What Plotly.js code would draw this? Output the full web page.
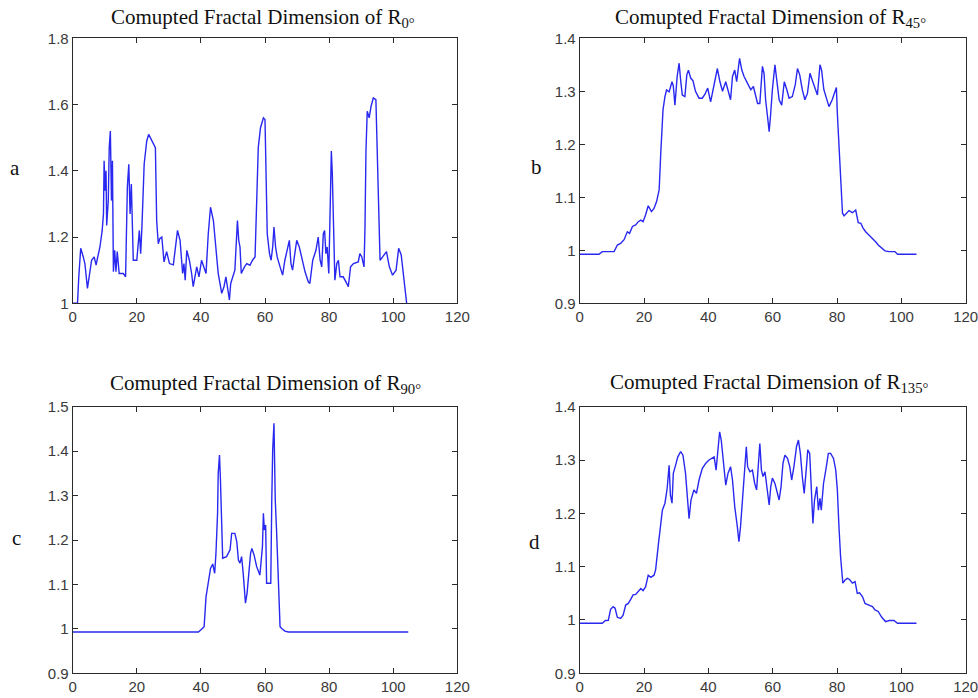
<!DOCTYPE html>
<html>
<head>
<meta charset="utf-8">
<script src="https://cdn.plot.ly/plotly-3.0.1.min.js"></script>
<style>
html,body{margin:0;padding:0;background:#fff;}
#chart{width:978px;height:698px;}
</style>
</head>
<body>
<div id="chart"></div>
<script>
// ---------- data ----------
const panelLetters = ["a", "b", "c", "d"];
const panelSubs = ["0°", "45°", "90°", "135°"];
const titlePrefix = "Comupted Fractal Dimension of R";

const xTicks = [0, 20, 40, 60, 80, 100, 120];
const yTicksA = [1, 1.2, 1.4, 1.6, 1.8];
const yTicksB = [0.9, 1, 1.1, 1.2, 1.3, 1.4];
const yTicksC = [0.9, 1, 1.1, 1.2, 1.3, 1.4, 1.5];
const yTicksD = [0.9, 1, 1.1, 1.2, 1.3, 1.4];

const xA = [0,1.5,1.9,2.5,3.3,3.8,4.6,5.4,5.9,6.7,7.3,7.7,8.5,9.2,9.6,9.8,10.1,10.4,10.6,11.1,11.4,11.75,12.1,12.4,12.7,13.1,13.5,13.9,14.5,15.8,16.5,17.05,17.5,17.9,18.3,18.9,20,20.8,21.2,21.6,22.3,23.1,23.7,25.8,26.2,26.7,27.2,27.8,28.5,29.3,30.2,31.4,32.7,33.5,34.3,34.7,35.1,35.6,36.4,37.1,37.6,38.7,39.4,40.2,41,41.6,42.3,43,43.9,44.7,45.4,46.5,47.2,47.8,48.4,48.9,49.3,49.9,50.6,51.4,51.8,52.2,52.6,53.6,54.3,55.3,56.1,56.9,57.4,57.9,58.6,59.5,60,60.3,60.7,61.4,61.9,62.4,62.8,63.3,63.8,64.7,65.5,66.2,67,67.6,68.1,68.6,69.3,69.9,70.7,71.4,72.5,73.5,74,74.9,75.9,76.6,77.2,77.7,78.2,78.6,79,79.4,79.9,80.3,80.7,81,81.3,81.8,82.4,82.9,83.4,84.4,85.5,86,86.7,87.6,89.1,89.6,90.2,90.9,91.2,91.5,91.9,92.5,93.1,93.8,94.6,94.8,95.4,95.9,96.7,97.9,98.8,99.8,100.9,101.7,102.5,103.2,103.7,104.2,105];
const yA = [1,1,1.08,1.166,1.14,1.12,1.045,1.095,1.13,1.14,1.115,1.135,1.17,1.22,1.27,1.43,1.34,1.40,1.235,1.31,1.47,1.52,1.31,1.43,1.095,1.16,1.095,1.156,1.09,1.09,1.08,1.35,1.42,1.27,1.36,1.13,1.13,1.22,1.15,1.23,1.42,1.49,1.51,1.47,1.25,1.18,1.196,1.2,1.125,1.156,1.12,1.116,1.22,1.19,1.09,1.12,1.07,1.16,1.13,1.09,1.05,1.11,1.08,1.13,1.11,1.09,1.21,1.29,1.25,1.15,1.09,1.03,1.05,1.08,1.04,1.01,1.06,1.08,1.10,1.25,1.19,1.17,1.09,1.11,1.12,1.115,1.13,1.14,1.35,1.47,1.53,1.56,1.555,1.39,1.21,1.15,1.13,1.17,1.23,1.17,1.14,1.11,1.085,1.13,1.16,1.19,1.12,1.10,1.15,1.19,1.17,1.14,1.095,1.065,1.06,1.13,1.16,1.20,1.13,1.11,1.21,1.22,1.15,1.17,1.09,1.27,1.46,1.39,1.27,1.07,1.12,1.13,1.08,1.08,1.06,1.05,1.11,1.12,1.125,1.15,1.14,1.11,1.23,1.46,1.58,1.56,1.595,1.62,1.615,1.53,1.35,1.13,1.14,1.156,1.11,1.085,1.10,1.166,1.146,1.08,1.03,1.0,0.97];

const xB = [0,6,7,9.1,10.7,11.7,12.7,13.8,14.8,15.5,16.4,17.4,18.2,19,19.7,20.5,21.3,22.3,23.1,23.9,24.7,25.2,25.5,25.9,26.5,27,27.8,28.3,28.7,29.1,29.6,30.3,30.9,31.4,31.9,32.7,33.3,33.8,34.5,35.2,36,37.1,38.1,38.9,39.8,40.7,41.5,42.1,42.8,43.6,44.4,45.4,46,46.9,47.5,48.2,48.8,49.4,49.7,50.4,51.1,52.1,53.2,54,54.7,55.3,56,56.8,57.3,57.8,58.4,58.9,59.3,59.9,60.7,61.3,62,62.8,63.6,64.4,65.1,66.1,67,67.7,68.4,69.2,70,70.8,71.6,72.3,73.2,73.9,74.7,75.2,75.9,76.7,77.5,78.5,79.2,79.8,80.1,80.6,81.1,81.7,82.2,82.9,83.7,84.8,85.8,86.6,87.4,88.1,88.9,89.9,91,92,92.8,93.9,94.9,96.2,98,98.8,104.7];
const yB = [0.9925,0.9925,0.9975,0.9975,0.9975,1.01,1.013,1.02,1.035,1.032,1.045,1.048,1.054,1.057,1.054,1.067,1.084,1.073,1.079,1.092,1.114,1.183,1.233,1.265,1.29,1.3025,1.299,1.309,1.318,1.31,1.274,1.328,1.353,1.32,1.293,1.29,1.331,1.34,1.325,1.32,1.30,1.287,1.287,1.294,1.306,1.28,1.303,1.321,1.343,1.318,1.30,1.318,1.306,1.284,1.328,1.34,1.318,1.35,1.362,1.34,1.328,1.316,1.303,1.309,1.293,1.277,1.277,1.347,1.334,1.284,1.252,1.224,1.252,1.303,1.35,1.321,1.284,1.274,1.318,1.303,1.287,1.29,1.312,1.343,1.331,1.303,1.284,1.296,1.334,1.321,1.303,1.293,1.35,1.34,1.303,1.287,1.271,1.284,1.296,1.307,1.258,1.196,1.139,1.07,1.065,1.07,1.075,1.071,1.076,1.052,1.051,1.042,1.035,1.029,1.023,1.016,1.01,1.004,0.999,0.9975,0.9975,0.9925,0.9925];

const xC = [0,39.2,40.2,41,41.6,42.3,43,43.7,44.3,44.7,45.2,45.4,45.8,46.1,46.4,46.8,48,49.1,49.6,50.6,51.2,51.7,52.2,52.7,53.2,53.9,54.4,54.9,55.5,55.9,56.6,57.4,58.4,59.2,59.5,59.8,60.2,60.5,61.8,62.1,62.4,62.8,63.2,63.6,64.1,64.7,65.2,66.2,67.3,104.7];
const yC = [0.993,0.993,0.999,1.005,1.072,1.11,1.136,1.146,1.125,1.17,1.26,1.35,1.391,1.335,1.23,1.159,1.1625,1.178,1.215,1.215,1.196,1.155,1.148,1.1625,1.125,1.058,1.08,1.125,1.17,1.181,1.166,1.14,1.121,1.185,1.26,1.2225,1.234,1.1025,1.1025,1.2825,1.4025,1.4625,1.29,1.2225,1.125,1.005,1.001,0.995,0.993,0.993];

const xD = [0,7,8,8.9,9.6,10.4,11,11.7,12.7,13.5,14.3,15.1,15.9,16.6,17.4,18.2,19,19.7,20.5,21.3,22.1,23.1,23.6,24.5,25.2,25.7,26.5,27.2,27.8,28.2,28.7,29.1,29.8,30.5,31.4,32.1,32.9,33.6,34,34.6,35.5,36.3,37.1,38.1,39.2,40.2,41,41.8,42.4,43,43.5,44,44.7,45.4,46.1,46.9,47.5,48.2,49,49.5,50,50.8,51.4,51.8,52.2,52.9,53.7,54.4,55,55.5,56,56.5,57,57.6,58.3,58.9,59.4,59.9,60.7,61.5,62,62.6,63.2,63.8,64.6,65.3,65.9,66.6,67.4,68,68.6,69.2,69.8,70.5,70.9,71.5,72,72.5,73,73.7,74.2,74.7,75.1,75.8,76.5,77.3,78,78.9,79.6,80.1,80.6,81.1,81.8,82.5,83.2,83.9,84.8,85.6,86.3,87,87.9,88.7,89.9,91,91.8,92.8,93.9,95.1,96.2,97.7,98.8,104.7];
const yD = [0.9938,0.9938,0.999,0.9995,1.02,1.025,1.022,1.005,1.003,1.009,1.028,1.031,1.039,1.047,1.048,1.053,1.059,1.055,1.0625,1.084,1.08,1.084,1.094,1.144,1.1875,1.206,1.219,1.247,1.29,1.234,1.219,1.275,1.29,1.306,1.316,1.309,1.275,1.219,1.19,1.225,1.244,1.2375,1.2625,1.284,1.294,1.3,1.303,1.306,1.281,1.325,1.353,1.3375,1.294,1.253,1.275,1.2875,1.2625,1.2125,1.175,1.147,1.175,1.2375,1.3,1.325,1.2875,1.278,1.281,1.256,1.244,1.3,1.331,1.281,1.269,1.278,1.244,1.2156,1.25,1.266,1.256,1.2375,1.225,1.25,1.294,1.309,1.303,1.2875,1.2625,1.2875,1.325,1.3375,1.3125,1.269,1.2375,1.2875,1.319,1.3125,1.2375,1.181,1.225,1.25,1.206,1.228,1.206,1.256,1.281,1.3125,1.3125,1.303,1.281,1.244,1.175,1.119,1.069,1.075,1.078,1.076,1.069,1.072,1.05,1.051,1.044,1.031,1.028,1.025,1.019,1.016,1.005,0.997,0.999,0.999,0.9938,0.9938];

// ---------- styling ----------
const lineColor = "rgb(40,40,240)";
const axisColor = "#2a2a2a";
const tickFont = {family: "Liberation Sans, Arial, sans-serif", size: 15, color: "#3a3a3a"};
const serif = "Liberation Serif, Times New Roman, serif";

const series = [[xA, yA], [xB, yB], [xC, yC], [xD, yD]];
const yRanges = [[1, 1.8], [0.9, 1.4], [0.9, 1.5], [0.9, 1.4]];
const yTickSets = [yTicksA, yTicksB, yTicksC, yTicksD];

const W = 978, H = 698;
const xDomLeft = [72.7 / W, 457.3 / W];
const xDomRight = [579.7 / W, 965.7 / W];
const yDomTop = [1 - 303.3 / H, 1 - 38.3 / H];
const yDomBot = [1 - 673.3 / H, 1 - 406.7 / H];
const xDoms = [xDomLeft, xDomRight, xDomLeft, xDomRight];
const yDoms = [yDomTop, yDomTop, yDomBot, yDomBot];

const traces = series.map((s, i) => ({
  x: s[0], y: s[1], type: "scatter", mode: "lines",
  line: {color: lineColor, width: 1.4},
  xaxis: "x" + (i === 0 ? "" : i + 1),
  yaxis: "y" + (i === 0 ? "" : i + 1),
  hoverinfo: "skip", showlegend: false
}));

const layout = {
  width: W, height: H,
  margin: {l: 0, r: 0, t: 0, b: 0},
  paper_bgcolor: "#fff", plot_bgcolor: "#fff",
  showlegend: false,
  annotations: []
};

function axisBase() {
  return {
    showgrid: false, zeroline: false, showline: true,
    linecolor: axisColor, linewidth: 1,
    ticks: "inside", ticklen: 5, tickcolor: axisColor, tickwidth: 1,
    mirror: "allticks", tickfont: tickFont, fixedrange: true,
    ticklabeloverflow: "allow"
  };
}

for (let i = 0; i < 4; i++) {
  const sfx = i === 0 ? "" : String(i + 1);
  const xa = axisBase();
  xa.domain = xDoms[i];
  xa.range = [0, 120];
  xa.tickvals = xTicks;
  xa.ticktext = xTicks.map(String);
  xa.anchor = "y" + sfx;
  const ya = axisBase();
  ya.domain = yDoms[i];
  ya.range = yRanges[i];
  ya.tickvals = yTickSets[i];
  ya.ticktext = yTickSets[i].map(String);
  ya.anchor = "x" + sfx;
  layout["xaxis" + sfx] = xa;
  layout["yaxis" + sfx] = ya;
}

// titles
const titleX = [263, 770, 265, 769];
const titleY = [18, 18, 384, 383];
const letterPos = [[15, 168], [536, 167], [16, 538], [534, 542]];
for (let i = 0; i < 4; i++) {
  layout.annotations.push({
    xref: "paper", yref: "paper",
    x: titleX[i] / W, y: 1 - titleY[i] / H,
    xanchor: "center", yanchor: "middle",
    text: titlePrefix + "<sub>" + panelSubs[i] + "</sub>",
    showarrow: false,
    font: {family: serif, size: 21, color: "#111"}
  });
  layout.annotations.push({
    xref: "paper", yref: "paper",
    x: letterPos[i][0] / W, y: 1 - letterPos[i][1] / H,
    xanchor: "center", yanchor: "middle",
    text: panelLetters[i], showarrow: false,
    font: {family: serif, size: 21, color: "#111"}
  });
}

Plotly.newPlot("chart", traces, layout, {displayModeBar: false});
</script>
</body>
</html>
